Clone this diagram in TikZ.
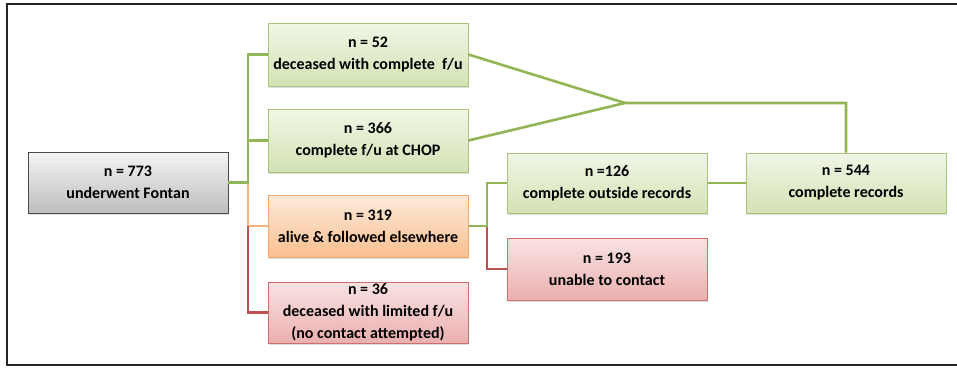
\documentclass[tikz,border=0pt]{standalone}
\usepackage{fontspec}
\setmainfont{Carlito}
\usetikzlibrary{shadows}
\definecolor{gline}{HTML}{92B556}
\definecolor{oline}{HTML}{F8B27C}
\definecolor{rline}{HTML}{C0504D}
\definecolor{gtop}{HTML}{F1F6E6}
\definecolor{gbot}{HTML}{D3E2B4}
\definecolor{gdraw}{HTML}{A9C47A}
\definecolor{otop}{HTML}{FDEADB}
\definecolor{obot}{HTML}{F9C08F}
\definecolor{odraw}{HTML}{F5A668}
\definecolor{rtop}{HTML}{F9E3E3}
\definecolor{rbot}{HTML}{EBAFAF}
\definecolor{rdraw}{HTML}{CD6F6C}
\definecolor{ktop}{HTML}{F4F4F4}
\definecolor{kbot}{HTML}{BDBDBD}
\definecolor{kdraw}{HTML}{4A4A4A}
\tikzset{
  box/.style={rectangle, minimum width=200pt, align=center, inner sep=0pt,
    line width=0.9pt, font=\fontsize{16}{22}\selectfont\bfseries,
    drop shadow={shadow xshift=1.2pt, shadow yshift=-2pt, opacity=0.25}},
  gbox/.style={box, draw=gdraw, top color=gtop, bottom color=gbot},
  obox/.style={box, draw=odraw, top color=otop, bottom color=obot},
  rbox/.style={box, draw=rdraw, top color=rtop, bottom color=rbot},
  kbox/.style={box, draw=kdraw, top color=ktop, bottom color=kbot},
  gconn/.style={draw=gline, line width=2.6pt},
  oconn/.style={draw=oline, line width=2.6pt},
  rconn/.style={draw=rline, line width=2.6pt},
}
\begin{document}
\begin{tikzpicture}[x=1pt,y=1pt]
\useasboundingbox (0,0) rectangle (957,-367);
\fill[white] (0,0) rectangle (957,-367);
\draw[line width=2pt, black!85] (957,-3.5) -- (6.5,-3.5) -- (6.5,-364.5) -- (957,-364.5);

\coordinate (tx) at (248,0);
\coordinate (tx2) at (487,0);
\coordinate (apex) at (625,-103);

% connectors first (below boxes)
\path[gconn] (368,-54.5) coordinate (c52) (368,-140.5) coordinate (c366);

\node[kbox, minimum height=61pt] (n773) at (128,-182.5) {n = 773\\underwent Fontan};
\node[gbox, minimum height=63pt] (n52) at (368,-54.5) {n = 52\\deceased with complete\ \ f/u};
\node[gbox, minimum height=63pt] (n366) at (368,-140.5) {n = 366\\complete f/u at CHOP};
\node[obox, minimum height=62pt] (n319) at (368,-226) {n = 319\\alive \& followed elsewhere};
\node[rbox, minimum height=61pt] (n36) at (368,-312.5) {n = 36\\deceased with limited f/u\\(no contact attempted)};
\node[gbox, minimum height=60pt] (n126) at (607,-183) {n =126\\complete outside records};
\node[rbox, minimum height=62pt] (n193) at (607,-269) {n = 193\\unable to contact};
\node[gbox, minimum height=60pt] (n544) at (846,-183) {n = 544\\complete records};

\draw[oconn] (n773.east -| tx) |- (n319.west);
\draw[rconn] (n319.west -| tx) |- (n36.west);
\draw[gconn] (n52.west) -- (n52.west -| tx) |- (n773.east);
\draw[gconn] (n366.west) -- (n366.west -| tx);

\draw[gconn] (n52.east) -- (apex);
\draw[gconn] (n366.east) -- (apex) -| (n544.north);

\draw[rconn] (n319.east -| tx2) |- (n193.west);
\draw[gconn] (n319.east) -- (n319.east -| tx2) |- (n126.west);
\draw[gconn] (n126.east) -- (n544.west);
\end{tikzpicture}
\end{document}
